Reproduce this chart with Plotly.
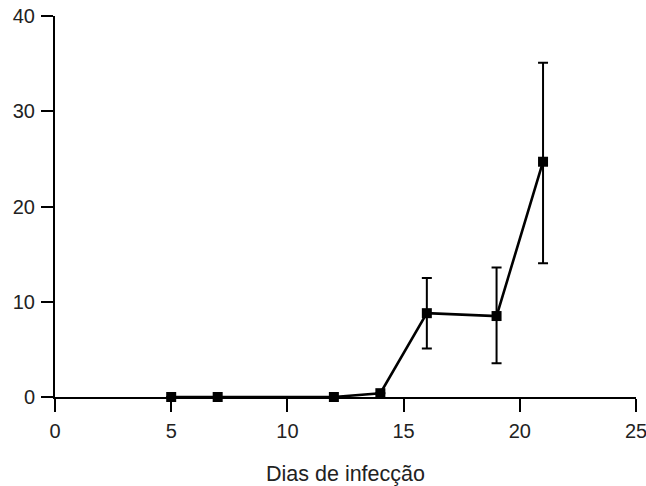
import plotly.graph_objects as go

dias = [5, 7, 12, 14, 16, 19, 21]
valores = [0.0, 0.0, 0.0, 0.4, 8.8, 8.5, 24.7]
erro_sup = [0, 0, 0, 0, 3.7, 5.1, 10.4]
erro_inf = [0, 0, 0, 0, 3.7, 4.95, 10.65]
x_ticks = [0, 5, 10, 15, 20, 25]
y_ticks = [0, 10, 20, 30, 40]

fig = go.Figure()
fig.add_trace(go.Scatter(
    x=dias, y=valores, mode="lines+markers",
    line=dict(color="black", width=2.6),
    marker=dict(symbol="square", size=10, color="black"),
    error_y=dict(type="data", symmetric=False, array=erro_sup, arrayminus=erro_inf,
                 color="black", thickness=2, width=5),
    showlegend=False,
    cliponaxis=False,
))

fig.update_layout(
    width=646, height=486,
    margin=dict(l=55, r=10, t=16, b=89),
    plot_bgcolor="white", paper_bgcolor="white",
    font=dict(family="Liberation Sans, Arial, sans-serif", size=20, color="#222"),
)
fig.update_xaxes(
    range=[0, 25], tickvals=x_ticks, showgrid=False, zeroline=False,
    showline=True, linecolor="black", linewidth=2,
    ticks="outside", ticklen=13, tickwidth=2, tickcolor="black",
    ticklabelstandoff=2, ticklabeloverflow="allow", automargin=False,
    title=dict(text="Dias de infecção", font=dict(size=21.5), standoff=25),
)
fig.update_yaxes(
    range=[0, 40], tickvals=y_ticks, showgrid=False, zeroline=False,
    showline=True, linecolor="black", linewidth=2,
    ticks="outside", ticklen=12, tickwidth=1.5, tickcolor="black",
    ticklabelstandoff=2, ticklabeloverflow="allow", automargin=False,
)

fig.write_html("out.html", config={"displayModeBar": False},
               post_script="document.body.style.margin='0';")
